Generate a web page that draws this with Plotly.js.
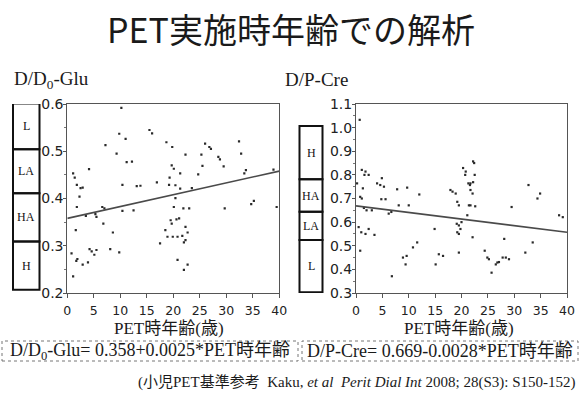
<!DOCTYPE html>
<html>
<head>
<meta charset="utf-8">
<script src="https://cdn.plot.ly/plotly-3.0.1.min.js"></script>
<style>html,body{margin:0;padding:0;background:#fff;}#chart{width:581px;height:396px;}</style>
</head>
<body>
<div id="chart"></div>
<script>
// ---- data ----
const gluAge = [10.2, 9.8, 11.0, 7.2, 9.3, 11.2, 12.2, 15.5, 16.0, 18.7, 19.8, 22.3, 25.3, 26.0, 26.8, 27.1, 32.4, 32.8, 28.5, 28.8, 29.5, 25.5, 24.7, 19.7, 20.1, 19.3, 16.9, 19.2, 20.4, 21.3, 21.3, 23.5, 10.4, 13.1, 13.8, 4.1, 1.1, 1.4, 1.8, 2.5, 2.9, 2.3, 1.8, 6.6, 7.0, 5.5, 5.3, 10.4, 12.5, 3.5, 6.8, 8.6, 1.6, 20.1, 20.4, 21.9, 23.0, 19.5, 19.7, 20.6, 21.1, 18.5, 18.9, 19.9, 20.8, 21.7, 22.3, 22.7, 22.3, 22.0, 17.5, 20.8, 22.0, 22.7, 29.7, 35.2, 34.7, 33.7, 33.4, 38.9, 39.5, 4.2, 4.6, 5.5, 5.1, 3.9, 2.9, 1.9, 1.7, 0.8, 1.1, 8.1, 9.8];
const gluRatio = [0.592, 0.537, 0.526, 0.513, 0.495, 0.477, 0.478, 0.545, 0.538, 0.519, 0.509, 0.493, 0.493, 0.516, 0.509, 0.505, 0.521, 0.495, 0.488, 0.483, 0.468, 0.469, 0.451, 0.470, 0.463, 0.444, 0.434, 0.429, 0.428, 0.453, 0.421, 0.422, 0.429, 0.426, 0.427, 0.462, 0.453, 0.444, 0.429, 0.422, 0.423, 0.404, 0.382, 0.382, 0.379, 0.361, 0.367, 0.374, 0.375, 0.363, 0.347, 0.328, 0.333, 0.382, 0.401, 0.379, 0.379, 0.354, 0.347, 0.356, 0.358, 0.333, 0.319, 0.319, 0.319, 0.321, 0.340, 0.328, 0.312, 0.307, 0.305, 0.270, 0.249, 0.260, 0.379, 0.395, 0.388, 0.460, 0.453, 0.461, 0.382, 0.293, 0.288, 0.291, 0.281, 0.265, 0.260, 0.272, 0.268, 0.284, 0.235, 0.293, 0.286];

const creAge = [0.7, 1.1, 1.8, 1.6, 2.4, 0.2, 1.3, 0.8, 1.1, 1.5, 2.0, 3.0, 0.5, 1.0, 1.8, 2.4, 3.5, 0.8, 4.0, 4.6, 4.9, 5.3, 4.8, 5.6, 7.8, 9.7, 8.1, 6.2, 6.7, 10.0, 12.0, 8.9, 9.6, 9.4, 10.8, 11.6, 6.8, 15.1, 15.7, 16.5, 14.9, 18.9, 17.9, 18.3, 19.2, 19.5, 19.1, 19.5, 20.0, 19.2, 19.5, 19.8, 19.5, 20.3, 20.8, 20.7, 22.2, 22.4, 22.5, 21.3, 21.6, 21.7, 22.2, 21.7, 22.1, 21.4, 21.7, 22.6, 21.1, 22.1, 24.4, 24.9, 25.2, 25.7, 26.5, 26.8, 27.1, 27.8, 28.4, 29.0, 28.1, 29.5, 32.1, 33.5, 32.7, 34.9, 34.4, 38.5, 39.2];
const creRatio = [1.033, 0.821, 0.814, 0.800, 0.800, 0.764, 0.743, 0.707, 0.700, 0.660, 0.650, 0.650, 0.579, 0.557, 0.550, 0.571, 0.546, 0.479, 0.764, 0.757, 0.786, 0.750, 0.697, 0.697, 0.739, 0.746, 0.671, 0.636, 0.643, 0.671, 0.717, 0.450, 0.457, 0.421, 0.493, 0.514, 0.371, 0.421, 0.464, 0.457, 0.571, 0.721, 0.736, 0.729, 0.686, 0.671, 0.593, 0.586, 0.600, 0.557, 0.550, 0.571, 0.471, 0.829, 0.814, 0.800, 0.857, 0.850, 0.800, 0.764, 0.757, 0.764, 0.769, 0.736, 0.721, 0.671, 0.671, 0.667, 0.629, 0.536, 0.479, 0.450, 0.443, 0.386, 0.421, 0.429, 0.431, 0.450, 0.450, 0.443, 0.529, 0.664, 0.471, 0.514, 0.757, 0.721, 0.700, 0.629, 0.621];

// regression coefficients [intercept, slope]
const gluCoef = [0.358, 0.0025];
const creCoef = [0.669, -0.0028];
const fitAges = [0, 40];

const xTicks = [0, 5, 10, 15, 20, 25, 30, 35, 40];

// transport category bands beside each y axis
const gluBandLabels = ['L', 'LA', 'HA', 'H'];
const gluBandEdges = [0.601, 0.504, 0.411, 0.309, 0.207];
const creBandLabels = ['H', 'HA', 'LA', 'L'];
const creBandEdges = [1.007, 0.781, 0.644, 0.524, 0.303];

// texts
const mainTitle = 'PET実施時年齢での解析';
const gluTitle = 'D/D<sub>0</sub>-Glu';
const creTitle = 'D/P-Cre';
const xTitle = 'PET時年齢(歳)';
const gluFormula = 'D/D<sub>0</sub>-Glu= 0.358+0.0025*PET時年齢';
const creFormula = 'D/P-Cre= 0.669-0.0028*PET時年齢';
const footnote = '(小児PET基準参考  Kaku, <i>et al</i>  <i>Perit Dial Int</i> 2008; 28(S3): S150-152)';

// ---- drawing ----
const W = 581, H = 396;
const px = v => v / W;
const py = v => 1 - v / H;
const SERIF = 'Liberation Serif, Noto Sans CJK JP, serif';
const SANS = 'DejaVu Sans, sans-serif';

const markerStyle = {size: 2.2, color: '#2a2a2a', symbol: 'square'};
const lineStyle = {color: '#4a4a4a', width: 1.6};

const traces = [
  {x: gluAge, y: gluRatio, xaxis: 'x', yaxis: 'y', type: 'scatter', mode: 'markers', marker: markerStyle},
  {x: fitAges, y: fitAges.map(a => gluCoef[0] + gluCoef[1] * a), xaxis: 'x', yaxis: 'y', type: 'scatter', mode: 'lines', line: lineStyle},
  {x: creAge, y: creRatio, xaxis: 'x2', yaxis: 'y2', type: 'scatter', mode: 'markers', marker: markerStyle},
  {x: fitAges, y: fitAges.map(a => creCoef[0] + creCoef[1] * a), xaxis: 'x2', yaxis: 'y2', type: 'scatter', mode: 'lines', line: lineStyle}
];

const xCommon = {
  range: [0, 40], tickvals: xTicks, ticks: 'outside', ticklen: 4, tickcolor: '#555',
  showline: true, mirror: true, linecolor: '#555', linewidth: 1,
  showgrid: false, zeroline: false, ticklabelstandoff: 2,
  tickfont: {family: SANS, size: 12.5, color: '#222'}
};
const yCommon = {
  dtick: 0.1, tickformat: '.1f', ticks: 'outside', ticklen: 3, tickcolor: '#555',
  minor: {dtick: 0.05, ticks: 'outside', ticklen: 2, tickcolor: '#777'},
  showline: true, mirror: true, linecolor: '#555', linewidth: 1,
  showgrid: false, zeroline: false, ticklabelstandoff: -3,
  tickfont: {family: SANS, size: 14, color: '#222'}
};
const yDom = [py(293), py(104)];

const shapes = [];
const annotations = [];

function bands(labels, edges, yref, xl, xr) {
  labels.forEach((lab, i) => {
    shapes.push({type: 'rect', xref: 'paper', yref: yref, x0: px(xl), x1: px(xr),
      y0: edges[i + 1], y1: edges[i], line: {color: '#111', width: 2}, fillcolor: 'rgba(0,0,0,0)'});
    annotations.push({xref: 'paper', yref: yref, x: px((xl + xr) / 2), y: (edges[i] + edges[i + 1]) / 2,
      text: lab, showarrow: false, xanchor: 'center', yanchor: 'middle',
      font: {family: SERIF, size: 12, color: '#111'}});
  });
}
bands(gluBandLabels, gluBandEdges, 'y', 13, 39.5);
bands(creBandLabels, creBandEdges, 'y2', 299.5, 322.5);

// formula boxes
shapes.push({type: 'rect', xref: 'paper', yref: 'paper', x0: px(2), x1: px(298), y0: py(361), y1: py(341), line: {color: '#777', width: 1, dash: 'dot'}});
shapes.push({type: 'rect', xref: 'paper', yref: 'paper', x0: px(302), x1: px(578), y0: py(361), y1: py(341), line: {color: '#777', width: 1, dash: 'dot'}});

function txt(x, y, text, size, family, xanchor) {
  annotations.push({xref: 'paper', yref: 'paper', x: px(x), y: py(y), text: text, showarrow: false,
    xanchor: xanchor || 'center', yanchor: 'middle', font: {family: family, size: size, color: '#1a1a1a'}});
}
txt(290.5, 29, mainTitle, 34, 'Noto Sans CJK JP, sans-serif');
txt(12, 80, gluTitle, 19, SERIF, 'left');
txt(283, 79, creTitle, 19, SERIF, 'left');
txt(169, 328.5, xTitle, 17, SERIF);
txt(459, 328.5, xTitle, 17, SERIF);
txt(150, 351, gluFormula, 18, SERIF);
txt(440, 351, creFormula, 18, SERIF);
txt(577, 382, footnote, 15, SERIF, 'right');

const layout = {
  width: W, height: H,
  margin: {l: 0, r: 0, t: 0, b: 0},
  paper_bgcolor: '#fff', plot_bgcolor: '#fff',
  showlegend: false,
  xaxis: Object.assign({domain: [px(67.3), px(279.3)], anchor: 'y'}, xCommon),
  yaxis: Object.assign({domain: yDom, range: [0.2, 0.6], anchor: 'x'}, yCommon),
  xaxis2: Object.assign({domain: [px(356), px(567)], anchor: 'y2'}, xCommon),
  yaxis2: Object.assign({domain: yDom, range: [0.3, 1.1], anchor: 'x2'}, yCommon),
  shapes: shapes,
  annotations: annotations
};

Plotly.newPlot('chart', traces, layout, {displayModeBar: false, staticPlot: true});
</script>
</body>
</html>
